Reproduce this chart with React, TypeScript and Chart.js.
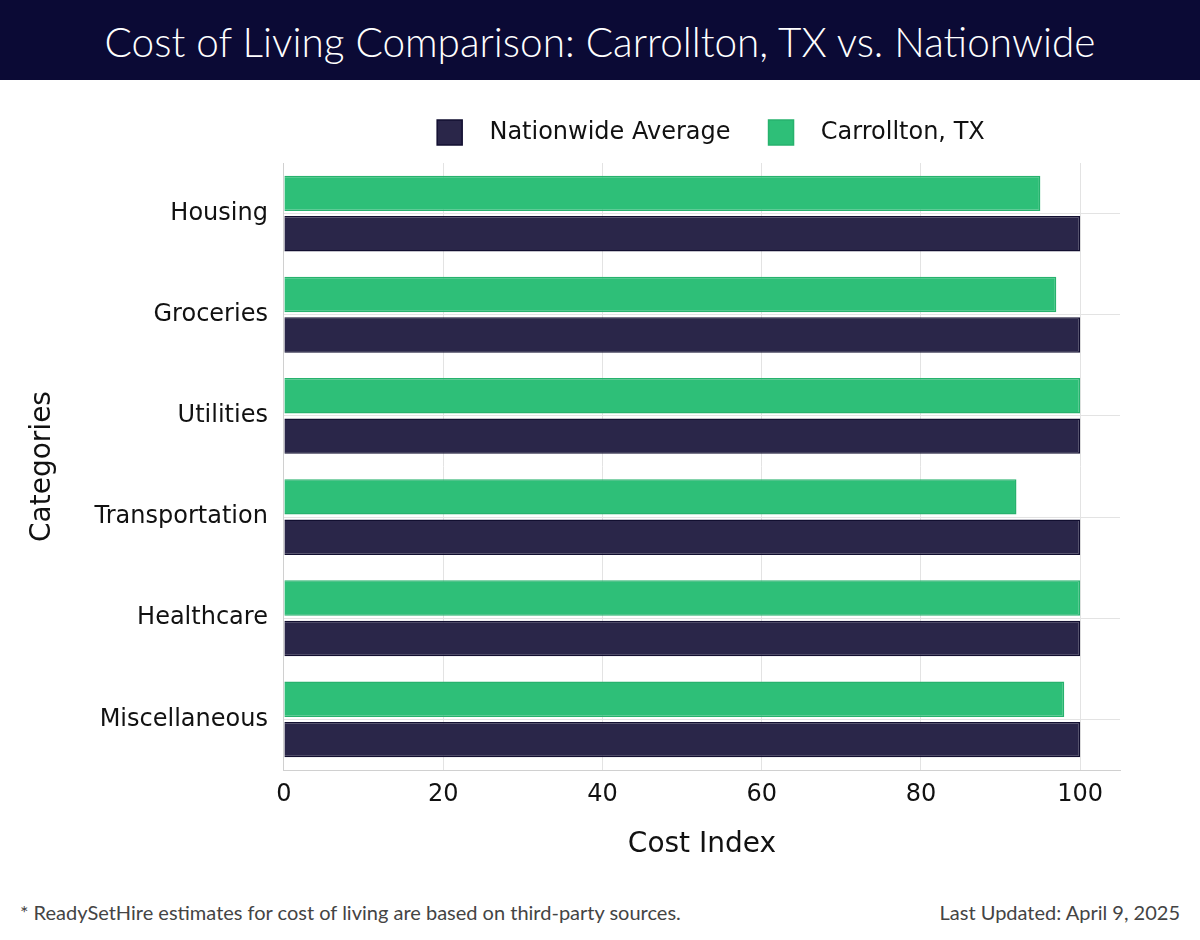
import React, { useEffect, useRef } from "react";
import { Chart, registerables } from "chart.js";

Chart.register(...registerables);

const categories = ["Housing", "Groceries", "Utilities", "Transportation", "Healthcare", "Miscellaneous"];
const carrolltonValues = [95, 97, 100, 92, 100, 98];
const nationwideValues = [100, 100, 100, 100, 100, 100];
const xTickValues = [0, 20, 40, 60, 80, 100];
const seriesLabels = ["Carrollton, TX", "Nationwide Average"];

const chartFont = "'DejaVu Sans', sans-serif";
const pageFont = "Lato, 'Open Sans', sans-serif";

export default function App() {
  const canvasRef = useRef<HTMLCanvasElement | null>(null);

  useEffect(() => {
    if (!canvasRef.current) return;
    const legendSpacer = {
      id: "legendSpacer",
      beforeInit(chart: any) {
        const legend = chart.legend;
        if (!legend) return;
        const origFit = legend.fit;
        legend.fit = function () {
          origFit.call(this);
          this.height += 10;
        };
      },
      afterLayout(chart: any) {
        const legend = chart.legend;
        if (!legend) return;
        legend.left += 9;
        legend.right += 9;
        legend.top += 2;
        legend.bottom += 2;
      },
    };
    const chart = new Chart(canvasRef.current, {
      type: "bar",
      data: {
        labels: categories,
        datasets: [
          {
            label: seriesLabels[0],
            data: carrolltonValues,
            backgroundColor: "#2ebf78",
            borderColor: "#27b26d",
            borderWidth: 1.5,
            categoryPercentage: 0.8,
            barPercentage: 0.875,
          },
          {
            label: seriesLabels[1],
            data: nationwideValues,
            backgroundColor: "#2a2649",
            borderColor: "#120f30",
            borderWidth: 1.5,
            categoryPercentage: 0.8,
            barPercentage: 0.875,
          },
        ],
      },
      plugins: [legendSpacer],
      options: {
        indexAxis: "y",
        animation: false,
        responsive: false,
        devicePixelRatio: 1,
        layout: { padding: { top: 0, right: 80, bottom: 0, left: 0 } },
        plugins: {
          legend: {
            position: "top",
            fullSize: false,
            reverse: true,
            labels: {
              boxWidth: 25,
              boxHeight: 25,
              padding: 38,
              color: "#111",
              font: { family: chartFont, size: 24 },
              generateLabels(chart: any) {
                const items = Chart.defaults.plugins.legend.labels.generateLabels(chart);
                return items.map((it: any) => ({ ...it, text: "  " + it.text }));
              },
            },
          },
          tooltip: { enabled: false },
        },
        scales: {
          x: {
            type: "linear",
            min: 0,
            max: 105,
            afterBuildTicks(scale: any) {
              scale.ticks = xTickValues.map((v) => ({ value: v }));
            },
            grid: { color: "#e3e3e3", drawTicks: false },
            border: { display: true, color: "#d0d0d0" },
            ticks: {
              padding: 10,
              color: "#111",
              font: { family: chartFont, size: 24 },
            },
            title: {
              display: true,
              text: "Cost Index",
              color: "#111",
              font: { family: chartFont, size: 28 },
              padding: { top: 9.6, bottom: 18 },
            },
          },
          y: {
            type: "category",
            offset: true,
            grid: { color: "#e3e3e3", drawTicks: false, offset: false },
            border: { display: true, color: "#d0d0d0" },
            ticks: {
              padding: 16,
              color: "#111",
              font: { family: chartFont, size: 24 },
            },
            title: {
              display: true,
              text: "Categories",
              color: "#111",
              font: { family: chartFont, size: 28 },
              padding: { top: 26, bottom: 19 },
            },
          },
        },
      },
    } as any);
    return () => chart.destroy();
  }, []);

  return (
    <div style={{ position: "absolute", left: 0, top: 0, width: 1200, height: 940, background: "#fff", overflow: "hidden" }}>
      <div
        style={{
          position: "absolute",
          left: 0,
          top: 0,
          width: 1200,
          height: 80,
          background: "#0b0a35",
          color: "#fff",
          fontFamily: pageFont,
          fontWeight: 300,
          fontSize: 40.5,
          lineHeight: "84px",
          textAlign: "center",
          whiteSpace: "nowrap",
        }}
      >
        Cost of Living Comparison: Carrollton, TX vs. Nationwide
      </div>
      <div style={{ position: "absolute", left: 0, top: 80, width: 1200, height: 800 }}>
        <canvas ref={canvasRef} width={1200} height={800} style={{ display: "block", width: 1200, height: 800 }} />
      </div>
      <div
        style={{
          position: "absolute",
          left: 20,
          top: 899,
          fontFamily: pageFont,
          fontSize: 20,
          color: "#444",
          whiteSpace: "nowrap",
          lineHeight: "26px",
        }}
      >
        * ReadySetHire estimates for cost of living are based on third-party sources.
      </div>
      <div
        style={{
          position: "absolute",
          right: 20,
          top: 899,
          fontFamily: pageFont,
          fontSize: 20,
          color: "#444",
          whiteSpace: "nowrap",
          lineHeight: "26px",
        }}
      >
        Last Updated: April 9, 2025
      </div>
    </div>
  );
}
